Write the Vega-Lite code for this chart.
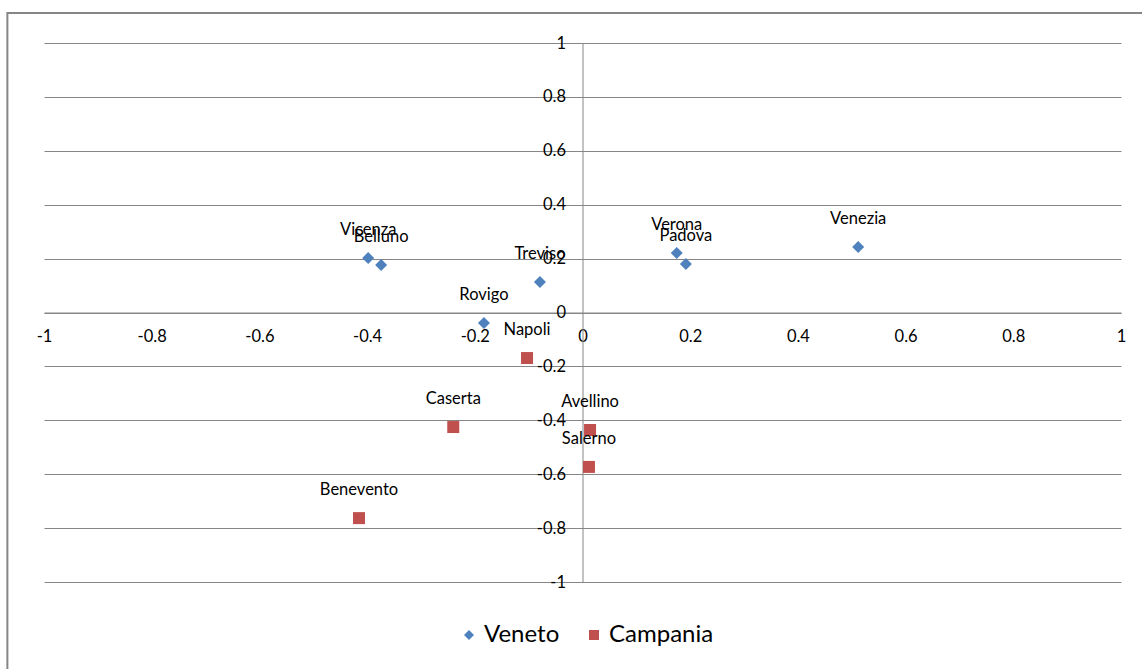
{
  "$schema": "https://vega.github.io/schema/vega-lite/v6.json",
  "width": 1077,
  "height": 539,
  "autosize": {"type": "none"},
  "padding": {"left": 44, "top": 43, "right": 21, "bottom": 87},
  "background": "white",
  "config": {
    "view": {"stroke": null},
    "font": "Lato",
    "axis": {
      "domainColor": "#868686",
      "domainWidth": 1,
      "gridColor": "#868686",
      "gridWidth": 1,
      "ticks": false,
      "labelFont": "Lato",
      "labelFontSize": 16.5,
      "labelColor": "#000000",
      "title": null
    }
  },
  "data": {
    "values": [
      {"series": "Veneto", "name": "Vicenza", "x": -0.398, "y": 0.202},
      {"series": "Veneto", "name": "Belluno", "x": -0.374, "y": 0.176},
      {"series": "Veneto", "name": "Treviso", "x": -0.079, "y": 0.113},
      {"series": "Veneto", "name": "Rovigo", "x": -0.183, "y": -0.039},
      {"series": "Veneto", "name": "Verona", "x": 0.175, "y": 0.221},
      {"series": "Veneto", "name": "Padova", "x": 0.192, "y": 0.180},
      {"series": "Veneto", "name": "Venezia", "x": 0.512, "y": 0.243},
      {"series": "Campania", "name": "Napoli", "x": -0.103, "y": -0.169},
      {"series": "Campania", "name": "Caserta", "x": -0.240, "y": -0.425},
      {"series": "Campania", "name": "Avellino", "x": 0.014, "y": -0.436},
      {"series": "Campania", "name": "Salerno", "x": 0.012, "y": -0.573},
      {"series": "Campania", "name": "Benevento", "x": -0.415, "y": -0.763}
    ]
  },
  "layer": [
    {
      "mark": {"type": "point", "filled": true, "opacity": 1, "size": 144},
      "encoding": {
        "x": {
          "field": "x",
          "type": "quantitative",
          "scale": {"domain": [-1, 1], "nice": false, "zero": false},
          "axis": {
            "orient": "bottom",
            "offset": -269.5,
            "grid": false,
            "values": [-1, -0.8, -0.6, -0.4, -0.2, 0, 0.2, 0.4, 0.6, 0.8, 1],
            "labelExpr": "datum.value + ''",
            "labelFlush": false,
            "labelOverlap": false,
            "labelPadding": 16,
            "labelAlign": "center"
          }
        },
        "y": {
          "field": "y",
          "type": "quantitative",
          "scale": {"domain": [-1, 1], "nice": false, "zero": false},
          "axis": {
            "orient": "left",
            "offset": -538.5,
            "grid": true,
            "values": [-1, -0.8, -0.6, -0.4, -0.2, 0, 0.2, 0.4, 0.6, 0.8, 1],
            "labelExpr": "datum.value + ''",
            "labelFlush": false,
            "labelOverlap": false,
            "labelPadding": 17,
            "labelBaseline": "middle"
          }
        },
        "color": {
          "field": "series",
          "type": "nominal",
          "scale": {"domain": ["Veneto", "Campania"], "range": ["#4F81BD", "#C0504D"]},
          "legend": {
            "title": null,
            "orient": "none",
            "direction": "horizontal",
            "legendX": 413,
            "legendY": 580,
            "labelFontSize": 24,
            "labelFont": "Lato",
            "labelColor": "#000000",
            "symbolSize": 100,
            "symbolStrokeWidth": 0,
            "labelOffset": 3,
            "columnPadding": 22
          }
        },
        "shape": {
          "field": "series",
          "type": "nominal",
          "scale": {"domain": ["Veneto", "Campania"], "range": ["diamond", "square"]},
          "legend": null
        }
      }
    },
    {
      "mark": {"type": "text", "baseline": "middle", "align": "center", "dy": -28, "fontSize": 16.5, "font": "Lato", "color": "#000000"},
      "encoding": {
        "x": {"field": "x", "type": "quantitative"},
        "y": {"field": "y", "type": "quantitative"},
        "text": {"field": "name", "type": "nominal"}
      }
    },
    {
      "data": {"values": [{}]},
      "mark": {"type": "rect", "fill": null, "stroke": "#868686", "strokeWidth": 2, "clip": false},
      "encoding": {
        "x": {"datum": -1.068, "type": "quantitative"},
        "x2": {"datum": 1.2},
        "y": {"datum": 1.111, "type": "quantitative"},
        "y2": {"datum": -1.5}
      }
    }
  ]
}
